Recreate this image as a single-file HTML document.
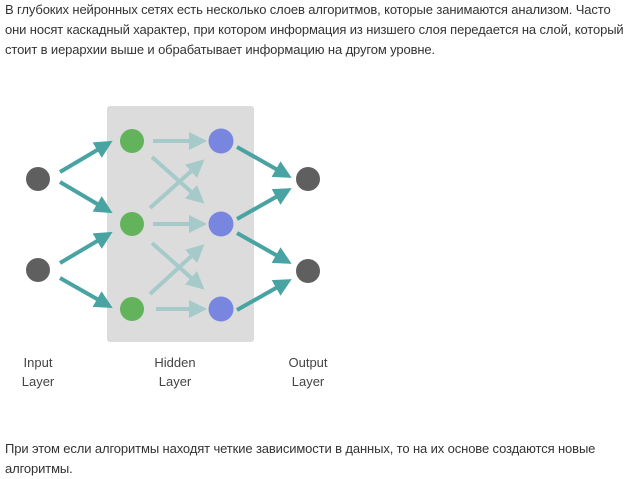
<!DOCTYPE html>
<html><head><meta charset="utf-8"><style>
body{margin:0;width:640px;height:478px;background:#fff;font-family:"Liberation Sans",Arial,sans-serif;color:#333;position:relative;overflow:hidden}
.t{position:absolute;left:5px;font-size:13px;line-height:20px;white-space:nowrap;letter-spacing:-0.12px}
.l{position:absolute;font-size:13px;line-height:19px;text-align:center;width:80px;color:#444}
</style></head><body>
<div class="t" style="top:0">В глубоких нейронных сетях есть несколько слоев алгоритмов, которые занимаются анализом. Часто<br>они носят каскадный характер, при котором информация из низшего слоя передается на слой, который<br>стоит в иерархии выше и обрабатывает информацию на другом уровне.</div>
<svg width="640" height="478" style="position:absolute;left:0;top:0">
<defs>
<marker id="a" markerWidth="4.5" markerHeight="4.5" refX="2" refY="2.25" orient="auto" markerUnits="strokeWidth"><path d="M0,0 L4.5,2.25 L0,4.5z" fill="#4aa3a3"/></marker>
<marker id="b" markerWidth="4.5" markerHeight="4.5" refX="2" refY="2.25" orient="auto" markerUnits="strokeWidth"><path d="M0,0 L4.5,2.25 L0,4.5z" fill="#a6cac9"/></marker>
</defs>
<rect x="107" y="106" width="147" height="236" rx="3" fill="#dcdcdc"/>
<g stroke="#a6cac9" stroke-width="4" marker-end="url(#b)">
<line x1="153" y1="141" x2="197" y2="141"/>
<line x1="153" y1="224" x2="197" y2="224"/>
<line x1="156" y1="309" x2="197" y2="309"/>
<line x1="152" y1="157" x2="197" y2="197"/>
<line x1="150" y1="208" x2="197" y2="166"/>
<line x1="152" y1="243" x2="197" y2="283"/>
<line x1="150" y1="294" x2="197" y2="251"/>
</g>
<g stroke="#4aa3a3" stroke-width="4" marker-end="url(#a)">
<line x1="60" y1="172" x2="104" y2="146"/>
<line x1="60" y1="182" x2="104" y2="208"/>
<line x1="60" y1="263" x2="104" y2="237"/>
<line x1="60" y1="278" x2="104" y2="303"/>
<line x1="237" y1="147" x2="283" y2="173"/>
<line x1="237" y1="219" x2="283" y2="193"/>
<line x1="237" y1="233" x2="283" y2="259"/>
<line x1="237" y1="310" x2="283" y2="284"/>
</g>
<g fill="#5f5f5f"><circle cx="38" cy="179" r="12"/><circle cx="38" cy="270" r="12"/><circle cx="308" cy="179" r="12"/><circle cx="308" cy="271" r="12"/></g>
<g fill="#63b35c"><circle cx="132" cy="141" r="12"/><circle cx="132" cy="224" r="12"/><circle cx="132" cy="309" r="12"/></g>
<g fill="#7986e0"><circle cx="221" cy="141" r="12.5"/><circle cx="221" cy="224" r="12.5"/><circle cx="221" cy="309" r="12.5"/></g>
</svg>
<div class="l" style="left:-2px;top:353px">Input<br>Layer</div>
<div class="l" style="left:135px;top:353px">Hidden<br>Layer</div>
<div class="l" style="left:268px;top:353px">Output<br>Layer</div>
<div class="t" style="top:439px">При этом если алгоритмы находят четкие зависимости в данных, то на их основе создаются новые<br>алгоритмы.</div>
</body></html>
